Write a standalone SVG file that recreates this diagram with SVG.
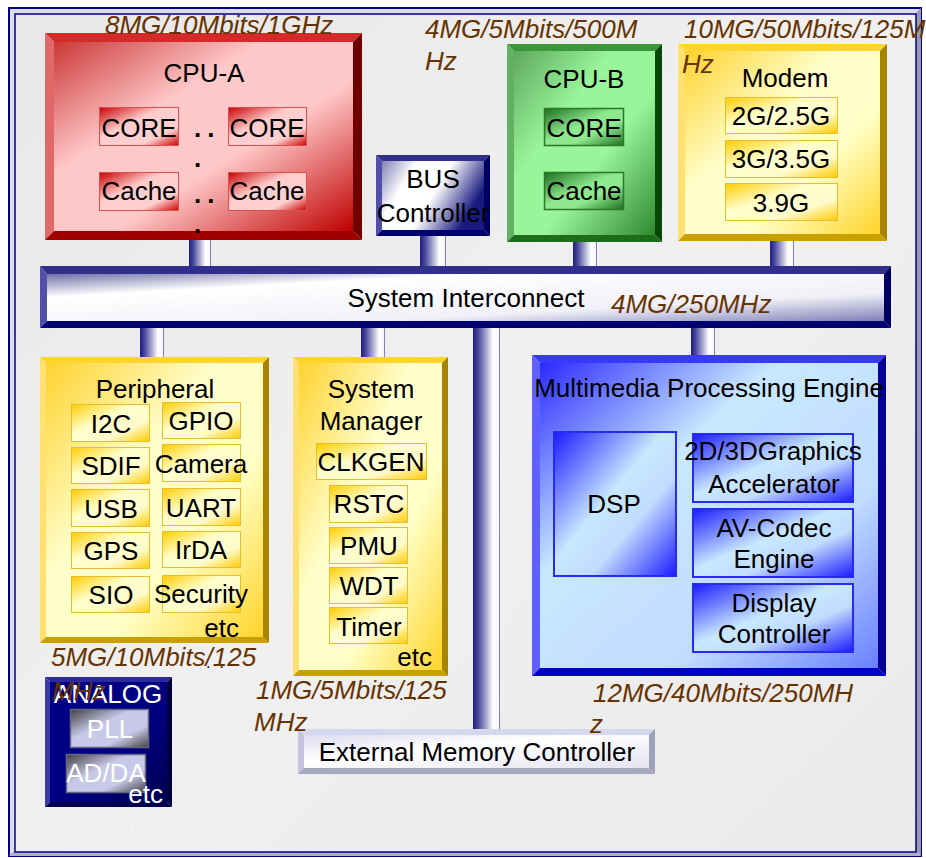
<svg xmlns="http://www.w3.org/2000/svg" width="926" height="858" viewBox="0 0 926 858">
  <style>
    text { font-family: "Liberation Sans", Arial, sans-serif; font-size: 26px; fill: #000; }
    .c { text-anchor: middle; }
    .e { text-anchor: end; }
    .w { fill: #fff; }
    .lbl { font-style: italic; fill: #663300; }
    .dots { font-size: 16px; letter-spacing: 9px; }
    .bdot { font-weight: bold; letter-spacing: 6px; }
    /* bevel palettes: t=top, l=left, r=right, b=bottom */
    .red .t { fill: #d42a2a; } .red .l { fill: #e06868; } .red .r { fill: #700000; } .red .b { fill: #a00000; }
    .grn .t { fill: #3c963c; } .grn .l { fill: #62b062; } .grn .r { fill: #064806; } .grn .b { fill: #1c6c1c; }
    .gld .t { fill: #ffd42e; } .gld .l { fill: #ffe070; } .gld .r { fill: #a88400; } .gld .b { fill: #c8a000; }
    .blu .t { fill: #3838ff; } .blu .l { fill: #6060ff; } .blu .r { fill: #000098; } .blu .b { fill: #0000c8; }
    .nav .t { fill: #30308c; } .nav .l { fill: #5050a8; } .nav .r { fill: #000060; } .nav .b { fill: #000070; }
    .lav .t { fill: #d6d6ec; } .lav .l { fill: #c4c4de; } .lav .r { fill: #a0a0b8; } .lav .b { fill: #a8a8c0; }
    .ana .t { fill: #2a2a9a; } .ana .l { fill: #3a3aaa; } .ana .r { fill: #000040; } .ana .b { fill: #000050; }
    .cellR { fill: url(#cellRed); stroke: #d85050; stroke-width: 1; }
    .cellG { fill: url(#cellGreen); stroke: #2a7a2a; stroke-width: 1.5; }
    .cellY { fill: url(#cellGold); stroke: #e6bf30; stroke-width: 1; }
    .cellB { fill: url(#cellBlue); stroke: #2a2aee; stroke-width: 2; }
    .cellK { fill: url(#cellGray); stroke: #666680; stroke-width: 1.5; }
    .pipe { fill: url(#pipe); }
    .pipeEdge { stroke: #8080c0; stroke-width: 1; }
  </style>
  <defs>
    <linearGradient id="bg" x1="0" y1="0" x2="1" y2="1">
      <stop offset="0" stop-color="#e8e8e8"/>
      <stop offset="0.5" stop-color="#f0f0f0"/>
      <stop offset="1" stop-color="#eaeaea"/>
    </linearGradient>
    <linearGradient id="faceRed" x1="0" y1="0" x2="1" y2="1">
      <stop offset="0" stop-color="#cc3838"/>
      <stop offset="0.35" stop-color="#ffc8c8"/>
      <stop offset="0.6" stop-color="#ffc8c8"/>
      <stop offset="1" stop-color="#c00000"/>
    </linearGradient>
    <linearGradient id="cellRed" x1="0" y1="0" x2="1" y2="1">
      <stop offset="0" stop-color="#c80000"/>
      <stop offset="0.4" stop-color="#ffcccc"/>
      <stop offset="0.75" stop-color="#ffd0d0"/>
      <stop offset="1" stop-color="#cc0000"/>
    </linearGradient>
    <linearGradient id="faceGreen" x1="0" y1="0" x2="1" y2="1">
      <stop offset="0" stop-color="#5fa85f"/>
      <stop offset="0.35" stop-color="#99f599"/>
      <stop offset="0.6" stop-color="#99f599"/>
      <stop offset="1" stop-color="#2f8a2f"/>
    </linearGradient>
    <linearGradient id="cellGreen" x1="0" y1="0" x2="1" y2="1">
      <stop offset="0" stop-color="#1e6e1e"/>
      <stop offset="0.45" stop-color="#8ee88e"/>
      <stop offset="0.65" stop-color="#8ee88e"/>
      <stop offset="1" stop-color="#1e6e1e"/>
    </linearGradient>
    <linearGradient id="faceGold" x1="0" y1="0" x2="1" y2="1">
      <stop offset="0" stop-color="#ffd22e"/>
      <stop offset="0.4" stop-color="#ffffcc"/>
      <stop offset="0.65" stop-color="#ffffc8"/>
      <stop offset="1" stop-color="#ffd42a"/>
    </linearGradient>
    <linearGradient id="cellGold" x1="0" y1="0" x2="1" y2="1">
      <stop offset="0" stop-color="#ffcc00"/>
      <stop offset="0.4" stop-color="#ffffcc"/>
      <stop offset="0.7" stop-color="#fffacc"/>
      <stop offset="1" stop-color="#ffcc00"/>
    </linearGradient>
    <linearGradient id="faceBlue" x1="0" y1="0" x2="1" y2="1">
      <stop offset="0" stop-color="#2a2aff"/>
      <stop offset="0.35" stop-color="#c8e8ff"/>
      <stop offset="0.7" stop-color="#c0dcff"/>
      <stop offset="1" stop-color="#6a80ff"/>
    </linearGradient>
    <linearGradient id="cellBlue" x1="0" y1="0" x2="1" y2="1">
      <stop offset="0" stop-color="#1a1aff"/>
      <stop offset="0.45" stop-color="#c8e8ff"/>
      <stop offset="0.65" stop-color="#c0dcff"/>
      <stop offset="1" stop-color="#1a1aff"/>
    </linearGradient>
    <linearGradient id="faceNavy" x1="0" y1="0" x2="1" y2="0.4">
      <stop offset="0" stop-color="#8080b8"/>
      <stop offset="0.3" stop-color="#ffffff"/>
      <stop offset="0.6" stop-color="#ffffff"/>
      <stop offset="1" stop-color="#1a1a80"/>
    </linearGradient>
    <linearGradient id="faceBar" x1="0" y1="0" x2="1" y2="1">
      <stop offset="0" stop-color="#7070a8"/>
      <stop offset="0.25" stop-color="#ffffff"/>
      <stop offset="0.7" stop-color="#f0f0f8"/>
      <stop offset="1" stop-color="#8080b8"/>
    </linearGradient>
    <linearGradient id="faceLav" x1="0" y1="0" x2="1" y2="1">
      <stop offset="0" stop-color="#dcdcf0"/>
      <stop offset="0.4" stop-color="#ffffff"/>
      <stop offset="1" stop-color="#e4e4f2"/>
    </linearGradient>
    <linearGradient id="faceAnalog" x1="0" y1="0" x2="1" y2="1">
      <stop offset="0" stop-color="#000088"/>
      <stop offset="0.6" stop-color="#000080"/>
      <stop offset="1" stop-color="#000050"/>
    </linearGradient>
    <linearGradient id="cellGray" x1="0" y1="0" x2="1" y2="1">
      <stop offset="0" stop-color="#404040"/>
      <stop offset="0.4" stop-color="#c8c8e8"/>
      <stop offset="0.7" stop-color="#c8c8e8"/>
      <stop offset="1" stop-color="#404040"/>
    </linearGradient>
    <linearGradient id="pipe" x1="0" y1="0" x2="1" y2="0">
      <stop offset="0" stop-color="#1c1c84"/>
      <stop offset="0.2" stop-color="#4a4a9c"/>
      <stop offset="0.75" stop-color="#ffffff"/>
      <stop offset="1" stop-color="#f4f4fa"/>
    </linearGradient>
  </defs>

  <!-- page frame -->
  <g id="frame">
    <rect x="0" y="0" width="926" height="858" fill="#ffffff"/>
    <rect x="9" y="8" width="912" height="848" fill="#dcdcec" stroke="#000080" stroke-width="2"/>
    <polygon points="921,8 921,856 916,851 916,13" fill="#9a9aa8"/>
    <polygon points="9,856 921,856 916,851 14,851" fill="#b0b0c0"/>
    <rect x="15" y="14" width="901" height="838" fill="url(#bg)" stroke="#000080" stroke-width="1.5"/>
  </g>

  <!-- bus links -->
  <g id="connectors">
    <rect class="pipe" x="189" y="239" width="22" height="28"/>
    <line class="pipeEdge" x1="210.5" y1="239" x2="210.5" y2="267"/>
    <rect class="pipe" x="420" y="235" width="26" height="32"/>
    <line class="pipeEdge" x1="445.5" y1="235" x2="445.5" y2="267"/>
    <rect class="pipe" x="573" y="241" width="24" height="26"/>
    <line class="pipeEdge" x1="596.5" y1="241" x2="596.5" y2="267"/>
    <rect class="pipe" x="770" y="240" width="24" height="27"/>
    <line class="pipeEdge" x1="793.5" y1="240" x2="793.5" y2="267"/>
    <rect class="pipe" x="140" y="327" width="24" height="31"/>
    <line class="pipeEdge" x1="163.5" y1="327" x2="163.5" y2="358"/>
    <rect class="pipe" x="361" y="327" width="24" height="31"/>
    <line class="pipeEdge" x1="384.5" y1="327" x2="384.5" y2="358"/>
    <rect class="pipe" x="473" y="327" width="27" height="403"/>
    <line class="pipeEdge" x1="499.5" y1="327" x2="499.5" y2="730"/>
    <rect class="pipe" x="691" y="327" width="24" height="29"/>
    <line class="pipeEdge" x1="714.5" y1="327" x2="714.5" y2="356"/>
  </g>

  <g id="cpu-a" class="red">
    <polygon class="t" points="45,33 362,33 353,42 54,42"/>
    <polygon class="l" points="45,33 54,42 54,231 45,240"/>
    <polygon class="r" points="362,33 362,240 353,231 353,42"/>
    <polygon class="b" points="45,240 54,231 353,231 362,240"/>
    <rect x="54" y="42" width="299" height="189" fill="url(#faceRed)"/>
    <text class="c" x="204" y="82">CPU-A</text>
    <rect class="cellR" x="99.5" y="107.5" width="79" height="38"/>
    <rect class="cellR" x="228.5" y="107.5" width="78" height="38"/>
    <rect class="cellR" x="99.5" y="172.5" width="79" height="38"/>
    <rect class="cellR" x="228.5" y="172.5" width="78" height="38"/>
    <text class="c" x="139" y="137">CORE</text>
    <text class="c" x="267" y="137">CORE</text>
    <text class="c" x="139" y="200">Cache</text>
    <text class="c" x="267" y="200">Cache</text>
    <text class="bdot" x="194" y="137">..</text>
    <text class="bdot" x="194" y="167">.</text>
    <text class="bdot" x="194" y="203">..</text>
    <text class="bdot" x="194" y="233">.</text>
  </g>

  <g id="bus-controller" class="nav">
    <polygon class="t" points="376,155 490,155 484,161 382,161"/>
    <polygon class="l" points="376,155 382,161 382,230 376,236"/>
    <polygon class="r" points="490,155 490,236 484,230 484,161"/>
    <polygon class="b" points="376,236 382,230 484,230 490,236"/>
    <rect x="382" y="161" width="102" height="69" fill="url(#faceNavy)"/>
    <text class="c" x="433" y="188">BUS</text>
    <text class="c" x="433" y="222">Controller</text>
  </g>

  <g id="cpu-b" class="grn">
    <polygon class="t" points="507,44 662,44 655,51 514,51"/>
    <polygon class="l" points="507,44 514,51 514,235 507,242"/>
    <polygon class="r" points="662,44 662,242 655,235 655,51"/>
    <polygon class="b" points="507,242 514,235 655,235 662,242"/>
    <rect x="514" y="51" width="141" height="184" fill="url(#faceGreen)"/>
    <text class="c" x="584" y="88">CPU-B</text>
    <rect class="cellG" x="544.5" y="108.5" width="79" height="37"/>
    <rect class="cellG" x="544.5" y="172.5" width="79" height="37"/>
    <text class="c" x="584" y="137">CORE</text>
    <text class="c" x="584" y="200">Cache</text>
  </g>

  <g id="modem" class="gld">
    <polygon class="t" points="678,44 887,44 880,51 685,51"/>
    <polygon class="l" points="678,44 685,51 685,234 678,241"/>
    <polygon class="r" points="887,44 887,241 880,234 880,51"/>
    <polygon class="b" points="678,241 685,234 880,234 887,241"/>
    <rect x="685" y="51" width="195" height="183" fill="url(#faceGold)"/>
    <text class="c" x="785" y="87">Modem</text>
    <rect class="cellY" x="725.5" y="97.5" width="112" height="36"/>
    <rect class="cellY" x="725.5" y="140.5" width="112" height="37"/>
    <rect class="cellY" x="725.5" y="183.5" width="112" height="37"/>
    <text class="c" x="781" y="125">2G/2.5G</text>
    <text class="c" x="781" y="168">3G/3.5G</text>
    <text class="c" x="781" y="212">3.9G</text>
  </g>

  <g id="system-interconnect" class="nav">
    <polygon class="t" points="40,266 891,266 884,274 47,274"/>
    <polygon class="l" points="40,266 47,274 47,321 40,328"/>
    <polygon class="r" points="891,266 891,328 884,321 884,274"/>
    <polygon class="b" points="40,328 47,321 884,321 891,328"/>
    <rect x="47" y="274" width="837" height="47" fill="url(#faceBar)"/>
    <text class="c" x="466" y="307">System Interconnect</text>
  </g>

  <g id="peripheral" class="gld">
    <polygon class="t" points="40,357 269,357 263,363 46,363"/>
    <polygon class="l" points="40,357 46,363 46,637 40,643"/>
    <polygon class="r" points="269,357 269,643 263,637 263,363"/>
    <polygon class="b" points="40,643 46,637 263,637 269,643"/>
    <rect x="46" y="363" width="217" height="274" fill="url(#faceGold)"/>
    <text class="c" x="155" y="398">Peripheral</text>
    <rect class="cellY" x="71.5" y="404.5" width="78" height="37"/>
    <rect class="cellY" x="71.5" y="447.5" width="78" height="36"/>
    <rect class="cellY" x="71.5" y="489.5" width="78" height="37"/>
    <rect class="cellY" x="71.5" y="532.5" width="78" height="36"/>
    <rect class="cellY" x="71.5" y="576.5" width="78" height="36"/>
    <rect class="cellY" x="162.5" y="402.5" width="78" height="36"/>
    <rect class="cellY" x="162.5" y="444.5" width="78" height="37"/>
    <rect class="cellY" x="162.5" y="488.5" width="78" height="37"/>
    <rect class="cellY" x="162.5" y="531.5" width="78" height="36"/>
    <rect class="cellY" x="162.5" y="575.5" width="78" height="37"/>
    <text class="c" x="111" y="433">I2C</text>
    <text class="c" x="111" y="475">SDIF</text>
    <text class="c" x="111" y="518">USB</text>
    <text class="c" x="111" y="560">GPS</text>
    <text class="c" x="111" y="604">SIO</text>
    <text class="c" x="201" y="430">GPIO</text>
    <text class="c" x="201" y="473">Camera</text>
    <text class="c" x="201" y="517">UART</text>
    <text class="c" x="201" y="559">IrDA</text>
    <text class="c" x="201" y="603">Security</text>
    <text class="e" x="239" y="637">etc</text>
  </g>

  <g id="system-manager" class="gld">
    <polygon class="t" points="293,357 448,357 442,363 299,363"/>
    <polygon class="l" points="293,357 299,363 299,670 293,676"/>
    <polygon class="r" points="448,357 448,676 442,670 442,363"/>
    <polygon class="b" points="293,676 299,670 442,670 448,676"/>
    <rect x="299" y="363" width="143" height="307" fill="url(#faceGold)"/>
    <text class="c" x="371" y="398">System</text>
    <text class="c" x="371" y="430">Manager</text>
    <rect class="cellY" x="316.5" y="443.5" width="110" height="36"/>
    <rect class="cellY" x="329.5" y="485.5" width="78" height="37"/>
    <rect class="cellY" x="329.5" y="527.5" width="78" height="36"/>
    <rect class="cellY" x="329.5" y="567.5" width="78" height="36"/>
    <rect class="cellY" x="329.5" y="607.5" width="78" height="36"/>
    <text class="c" x="371" y="471">CLKGEN</text>
    <text class="c" x="369" y="513">RSTC</text>
    <text class="c" x="369" y="555">PMU</text>
    <text class="c" x="369" y="595">WDT</text>
    <text class="c" x="369" y="636">Timer</text>
    <text class="e" x="432" y="666">etc</text>
  </g>

  <g id="multimedia" class="blu">
    <polygon class="t" points="532,355 886,355 878,363 540,363"/>
    <polygon class="l" points="532,355 540,363 540,668 532,676"/>
    <polygon class="r" points="886,355 886,676 878,668 878,363"/>
    <polygon class="b" points="532,676 540,668 878,668 886,676"/>
    <rect x="540" y="363" width="338" height="305" fill="url(#faceBlue)"/>
    <text class="c" x="709" y="397">Multimedia Processing Engine</text>
    <rect class="cellB" x="554" y="432" width="122" height="144"/>
    <rect class="cellB" x="693" y="434" width="160" height="68"/>
    <rect class="cellB" x="693" y="509" width="160" height="68"/>
    <rect class="cellB" x="693" y="584" width="160" height="68"/>
    <text class="c" x="614" y="513">DSP</text>
    <text class="c" x="773" y="460">2D/3DGraphics</text>
    <text class="c" x="774" y="493">Accelerator</text>
    <text class="c" x="774" y="537">AV-Codec</text>
    <text class="c" x="774" y="568">Engine</text>
    <text class="c" x="774" y="612">Display</text>
    <text class="c" x="774" y="643">Controller</text>
  </g>

  <g id="external-memory" class="lav">
    <polygon class="t" points="298,729 655,729 649,735 304,735"/>
    <polygon class="l" points="298,729 304,735 304,768 298,774"/>
    <polygon class="r" points="655,729 655,774 649,768 649,735"/>
    <polygon class="b" points="298,774 304,768 649,768 655,774"/>
    <rect x="304" y="735" width="345" height="33" fill="url(#faceLav)"/>
    <text class="c" x="477" y="761">External Memory Controller</text>
  </g>

  <g id="analog" class="ana">
    <polygon class="t" points="45,677 172,677 167,682 50,682"/>
    <polygon class="l" points="45,677 50,682 50,802 45,807"/>
    <polygon class="r" points="172,677 172,807 167,802 167,682"/>
    <polygon class="b" points="45,807 50,802 167,802 172,807"/>
    <rect x="50" y="682" width="117" height="120" fill="url(#faceAnalog)"/>
    <text class="c w" x="108" y="703">ANALOG</text>
    <rect class="cellK" x="70.5" y="709.5" width="78" height="38"/>
    <rect class="cellK" x="66.5" y="754.5" width="79" height="38"/>
    <text class="c w" x="110" y="738">PLL</text>
    <text class="c w" x="106" y="782">AD/DA</text>
    <text class="e w" x="163" y="803">etc</text>
    <text x="128" y="833" fill="#f8f8f8" style="fill:#f8f8f8">...</text>
  </g>

  <!-- capacity / clock annotations -->
  <g id="annotations">
    <text class="lbl" x="105" y="34">8MG/10Mbits/1GHz</text>
    <text class="lbl" x="425" y="38">4MG/5Mbits/500M</text>
    <text class="lbl" x="425" y="70">Hz</text>
    <text class="lbl" x="684" y="38">10MG/50Mbits/125M</text>
    <text class="lbl" x="682" y="73">Hz</text>
    <text class="lbl" x="611" y="313">4MG/250MHz</text>
    <text class="lbl" x="51" y="666">5MG/10Mbits/125</text>
    <text class="lbl" x="52" y="700">MHz</text>
    <text class="lbl" x="256" y="699">1MG/5Mbits/125</text>
    <text class="lbl" x="254" y="731">MHz</text>
    <text class="lbl" x="593" y="702">12MG/40Mbits/250MH</text>
    <text class="lbl" x="590" y="733">z</text>
    <text class="dots" x="206" y="668">..</text>
    <text class="dots" x="399" y="700">..</text>
  </g>
</svg>
